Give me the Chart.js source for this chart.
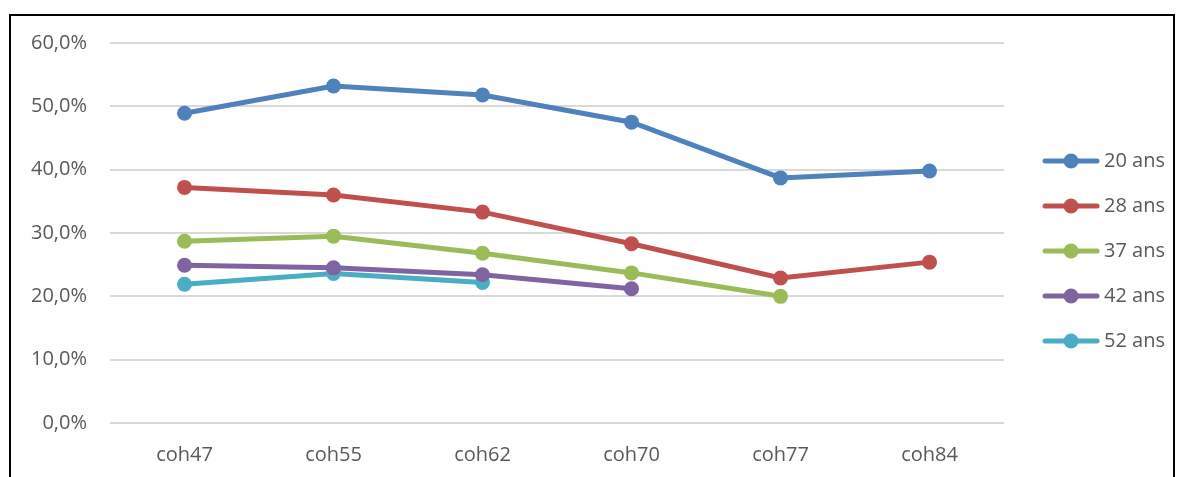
<!DOCTYPE html>
<html>
<head>
<meta charset="utf-8">
<script src="https://cdn.jsdelivr.net/npm/chart.js@4/dist/chart.umd.min.js"></script>
<style>
  html, body { margin: 0; padding: 0; background: #fff; }
  body { width: 1179px; height: 477px; position: relative; overflow: hidden; }
  #frame { position: absolute; left: 9px; top: 14px; width: 1166px; height: 480px;
           border-top: 2px solid #000; border-left: 2px solid #000; border-right: 2px solid #000; box-sizing: border-box; }
  #wrap { position: absolute; left: 0; top: 0; width: 1179px; height: 477px; }
</style>
</head>
<body>
<div id="frame"></div>
<div id="wrap"><canvas id="c" width="1179" height="477"></canvas></div>
<script>
const categories = ["coh47", "coh55", "coh62", "coh70", "coh77", "coh84"];
const seriesNames = ["20 ans", "28 ans", "37 ans", "42 ans", "52 ans"];
const ans20 = [0.489, 0.532, 0.518, 0.475, 0.387, 0.398];
const ans28 = [0.372, 0.360, 0.333, 0.283, 0.229, 0.254];
const ans37 = [0.287, 0.295, 0.268, 0.237, 0.200, null];
const ans42 = [0.249, 0.245, 0.234, 0.212, null, null];
const ans52 = [0.219, 0.236, 0.222, null, null, null];
const colors = ["#4f81bd", "#c0504d", "#9bbb59", "#8064a2", "#4bacc6"];
const yTicks = [0, 0.1, 0.2, 0.3, 0.4, 0.5, 0.6];

const values = [ans20, ans28, ans37, ans42, ans52];

function legendIcon(color) {
  const cv = document.createElement('canvas');
  cv.width = 77; cv.height = 20;
  const g = cv.getContext('2d');
  g.strokeStyle = color; g.lineWidth = 5; g.lineCap = 'round';
  g.beginPath(); g.moveTo(22, 10); g.lineTo(74, 10); g.stroke();
  g.fillStyle = color;
  g.beginPath(); g.arc(48, 10, 7.5, 0, Math.PI * 2); g.fill();
  return cv;
}
const icons = colors.map(legendIcon);

const fmt = v => (v * 100).toFixed(1).replace('.', ',') + '%';

const legendShift = {
  id: 'legendShift',
  afterLayout(chart) {
    if (chart.legend) { chart.legend.top -= 14; chart.legend.bottom -= 14; }
  }
};

new Chart(document.getElementById('c'), {
  type: 'line',
  data: {
    labels: categories,
    datasets: seriesNames.map((name, i) => ({
      label: name,
      data: values[i],
      borderColor: colors[i],
      backgroundColor: colors[i],
      borderWidth: 5,
      pointRadius: 7.5,
      pointHoverRadius: 7.5,
      pointBorderWidth: 0,
      pointBackgroundColor: colors[i],
      tension: 0,
      spanGaps: false,
      fill: false
    }))
  },
  plugins: [legendShift],
  options: {
    responsive: false,
    animation: false,
    devicePixelRatio: 1,
    layout: { padding: { left: 8, right: 4, top: 43, bottom: -10 } },
    plugins: {
      tooltip: { enabled: false },
      legend: {
        position: 'right',
        align: 'center',
        labels: {
          font: { family: "'Open Sans', sans-serif", size: 20 },
          color: '#595959',
          padding: 25,
          usePointStyle: true,
          pointStyleWidth: 65,
          generateLabels: (chart) => chart.data.datasets.map((ds, i) => ({
            text: ds.label,
            pointStyle: icons[i],
            fillStyle: ds.borderColor,
            strokeStyle: ds.borderColor,
            lineWidth: 0,
            fontColor: '#595959',
            hidden: false,
            datasetIndex: i
          }))
        }
      }
    },
    scales: {
      x: {
        offset: true,
        grid: { display: false, drawTicks: false },
        border: { display: false },
        ticks: {
          color: '#595959',
          font: { family: "'Open Sans', sans-serif", size: 20 },
          padding: 20,
          maxRotation: 0
        }
      },
      y: {
        min: 0, max: 0.6,
        afterBuildTicks: (axis) => { axis.ticks = yTicks.map(v => ({ value: v })); },
        grid: { color: '#d9d9d9', lineWidth: 2, drawTicks: false },
        border: { display: false },
        ticks: {
          color: '#595959',
          font: { family: "'Open Sans', sans-serif", size: 20 },
          padding: 23,
          callback: (v) => fmt(v)
        }
      }
    }
  }
});
</script>
</body>
</html>
